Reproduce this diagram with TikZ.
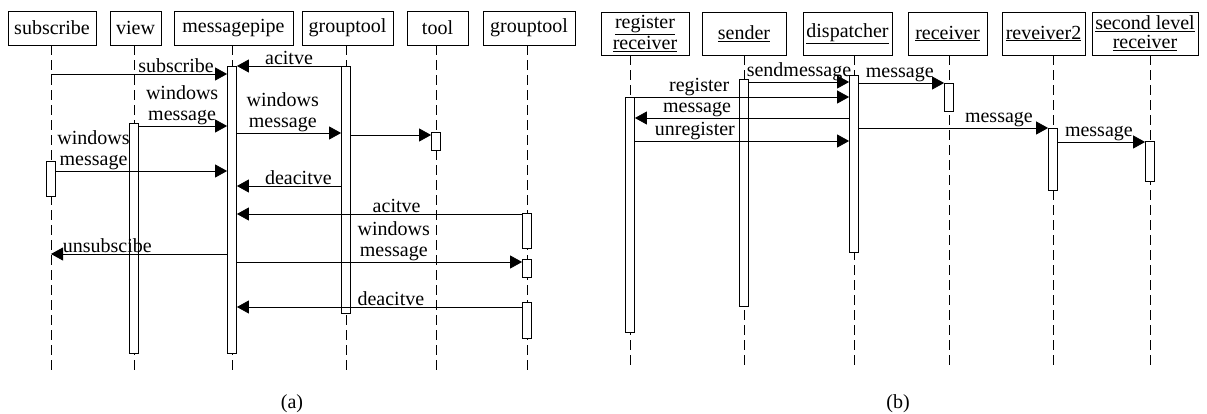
\documentclass[tikz,border=0pt]{standalone}
\usepackage{fontspec}
\setmainfont{Liberation Serif}
\usepackage{tikz}
\usetikzlibrary{arrows.meta,positioning}

\tikzset{
  head/.style={draw, line width=0.8pt, inner sep=0pt, minimum height=34pt, align=center},
  headb/.style={head, minimum height=43pt},
  life/.style={line width=0.7pt, dash pattern=on 10pt off 5pt},
  actbar/.style={draw, fill=white, line width=0.8pt, minimum width=9pt, inner sep=0pt, anchor=north},
  msg/.style={line width=0.8pt, -{Triangle[length=12pt,width=13pt]}},
  lbl/.style={above, inner sep=1pt, align=center}
}

\begin{document}
\begin{tikzpicture}[x=1pt, y=-1pt, font=\fontsize{20}{21}\selectfont]
\useasboundingbox (0,0) rectangle (1207,414);

% (a) heads
\node[head, minimum width=88pt] (sub) at (52,28) {subscribe};
\node[head, minimum width=51pt] (view) at (135.5,28) {view};
\node[head, minimum width=119pt] (mp) at (233.5,28) {messagepipe};
\node[head, minimum width=91pt] (gt) at (347.5,28) {grouptool};
\node[head, minimum width=61pt] (tool) at (437.5,28) {tool};
\node[head, minimum width=92pt] (gtb) at (529,28) {grouptool};

% (a) lifelines
\coordinate (subL) at (51,370);
\coordinate (viewL) at (134,370);
\coordinate (mpL) at (232,370);
\coordinate (gtL) at (346,370);
\coordinate (toolL) at (436,370);
\coordinate (gtbL) at (527,370);
\draw[life] (sub.south -| subL) -- (subL);
\draw[life] (view.south -| viewL) -- (viewL);
\draw[life] (mp.south -| mpL) -- (mpL);
\draw[life] (gt.south -| gtL) -- (gtL);
\draw[life] (tool.south -| toolL) -- (toolL);
\draw[life] (gtb.south -| gtbL) -- (gtbL);

% (a) activations
\node[actbar, minimum height=35pt] (subbar) at (subL |- 0,161) {};
\node[actbar, minimum height=230pt] (viewbar) at (viewL |- 0,123) {};
\node[actbar, minimum height=287pt] (mpbar) at (mpL |- 0,66) {};
\node[actbar, minimum height=247pt] (gtbar) at (gtL |- 0,66) {};
\node[actbar, minimum height=18pt] (toolbar) at (toolL |- 0,132) {};
\node[actbar, minimum height=35pt] (gtbbar1) at (gtbL |- 0,213) {};
\node[actbar, minimum height=18pt] (gtbbar2) at (gtbL |- 0,259) {};
\node[actbar, minimum height=36pt] (gtbbar3) at (gtbL |- 0,302) {};

% (a) messages
\draw[msg] (subL |- 0,74) -- (mpbar.west |- 0,74) node[lbl, pos=.71] {subscribe};
\draw[msg] (gtbar.west |- 0,66) -- (mpbar.east |- 0,66) node[lbl, pos=.5] {acitve};
\draw[msg] (viewbar.east |- 0,126) -- (mpbar.west |- 0,126) node[lbl, pos=.49] {windows\\message};
\draw[msg] (mpbar.east |- 0,133) -- (gtbar.west |- 0,133) node[lbl, pos=.44] {windows\\message};
\draw[msg] (gtbar.east |- 0,135) -- (toolbar.west |- 0,135);
\draw[msg] (subbar.east |- 0,171) -- (mpbar.west |- 0,171) node[lbl, pos=.22] {windows\\message};
\draw[msg] (gtbar.west |- 0,186) -- (mpbar.east |- 0,186) node[lbl, pos=.41] {deacitve};
\draw[msg] (gtbbar1.west |- 0,214) -- (mpbar.east |- 0,214) node[lbl, pos=.44] {acitve};
\draw[msg] (mpbar.west |- 0,254) -- (subL |- 0,254) node[lbl, pos=.68] {unsubscibe};
\draw[msg] (mpbar.east |- 0,262) -- (gtbbar2.west |- 0,262) node[lbl, pos=.55] {windows\\message};
\draw[msg] (gtbbar3.west |- 0,307) -- (mpbar.east |- 0,307) node[lbl, pos=.46] {deacitve};

\node (capa) at (292,404) {(a)};

% (b) heads
\node[headb, minimum width=88pt] (rr) at (645,33.5) {\underline{register}\\\underline{receiver}};
\node[headb, minimum width=84pt] (snd) at (744,33.5) {\underline{sender}};
\node[headb, minimum width=89pt] (dsp) at (847.5,33.5) {\underline{dispatcher}};
\node[headb, minimum width=79pt] (rcv) at (947.5,33.5) {\underline{receiver}};
\node[headb, minimum width=83pt] (rv) at (1043.5,33.5) {\underline{reveiver2}};
\node[headb, minimum width=106pt] (sl) at (1145,33.5) {\underline{second level}\\[-2pt]\underline{receiver}};

% (b) lifelines
\coordinate (rrL) at (630,369);
\coordinate (sndL) at (744,369);
\coordinate (dspL) at (854,369);
\coordinate (rcvL) at (949,369);
\coordinate (rvL) at (1053,369);
\coordinate (slL) at (1150,369);
\draw[life] (rr.south -| rrL) -- (rrL);
\draw[life] (snd.south -| sndL) -- (sndL);
\draw[life] (dsp.south -| dspL) -- (dspL);
\draw[life] (rcv.south -| rcvL) -- (rcvL);
\draw[life] (rv.south -| rvL) -- (rvL);
\draw[life] (sl.south -| slL) -- (slL);

% (b) activations
\node[actbar, minimum height=235pt] (rrbar) at (rrL |- 0,97) {};
\node[actbar, minimum height=227pt] (sndbar) at (sndL |- 0,79) {};
\node[actbar, minimum height=177pt] (dspbar) at (dspL |- 0,75) {};
\node[actbar, minimum height=28pt] (rcvbar) at (rcvL |- 0,83) {};
\node[actbar, minimum height=62pt] (rvbar) at (rvL |- 0,128) {};
\node[actbar, minimum height=40pt] (slbar) at (slL |- 0,141) {};

% (b) messages
\draw[msg] (sndbar.east |- 0,82) -- (dspbar.west |- 0,82) node[lbl, pos=.5] {sendmessage};
\draw[msg] (rrbar.east |- 0,97) -- (dspbar.west |- 0,97) node[lbl, pos=.3] {register};
\draw[msg] (dspbar.west |- 0,118) -- (rrbar.east |- 0,118) node[lbl, pos=.71] {message};
\draw[msg] (rrbar.east |- 0,141) -- (dspbar.west |- 0,141) node[lbl, pos=.28] {unregister};
\draw[msg] (dspbar.east |- 0,83) -- (rcvbar.west |- 0,83) node[lbl, pos=.48] {message};
\draw[msg] (dspbar.east |- 0,128) -- (rvbar.west |- 0,128) node[lbl, pos=.74] {message};
\draw[msg] (rvbar.east |- 0,142) -- (slbar.west |- 0,142) node[lbl, pos=.47] {message};

\node (capb) at (898,404) {(b)};
\end{tikzpicture}
\end{document}
